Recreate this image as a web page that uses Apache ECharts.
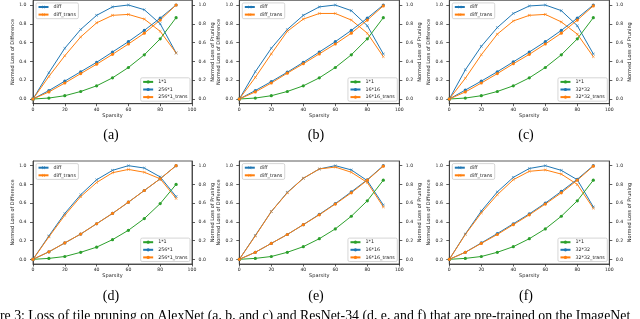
<!DOCTYPE html>
<html>
<head>
<meta charset="utf-8">
<script src="https://cdn.jsdelivr.net/npm/echarts@6/dist/echarts.min.js"></script>
<style>html,body{margin:0;padding:0;background:#fff;}#c{width:640px;height:319px;}</style>
</head>
<body>
<div id="c"></div>
<script>
// ---- data ----
const sparsity = [0, 10, 20, 30, 40, 50, 60, 70, 80, 90];
const yTicks = [0, 0.2, 0.4, 0.6, 0.8, 1.0];
const xTicksMax = 100;
const panelLabels = ['(a)', '(b)', '(c)', '(d)', '(e)', '(f)'];
const tileNames = ['256*1', '16*16', '32*32', '256*1', '16*16', '32*32'];
const tileTransNames = ['256*1_trans', '16*16_trans', '32*32_trans', '256*1_trans', '16*16_trans', '32*32_trans'];
const captionText = 're 3: Loss of tile pruning on AlexNet (a, b, and c) and ResNet-34 (d, e, and f) that are pre-trained on the ImageNet';

// (a) AlexNet 256*1
const diffA      = [0, 0.28, 0.54, 0.74, 0.89, 0.98, 1.00, 0.95, 0.80, 0.49];
const diffTransA = [0, 0.24, 0.46, 0.66, 0.81, 0.89, 0.90, 0.85, 0.72, 0.49];
const oneA       = [0, 0.01, 0.035, 0.08, 0.14, 0.225, 0.335, 0.47, 0.64, 0.865];
const tileA      = [0, 0.09, 0.19, 0.29, 0.39, 0.50, 0.61, 0.73, 0.86, 1.00];
const tileTransA = [0, 0.075, 0.17, 0.27, 0.37, 0.475, 0.585, 0.70, 0.84, 1.00];
// (b) AlexNet 16*16
const diffB      = [0, 0.29, 0.54, 0.74, 0.89, 0.98, 1.00, 0.94, 0.78, 0.48];
const diffTransB = [0, 0.23, 0.48, 0.72, 0.85, 0.91, 0.91, 0.84, 0.70, 0.45];
const oneB       = [0, 0.01, 0.035, 0.08, 0.14, 0.225, 0.335, 0.47, 0.64, 0.865];
const tileB      = [0, 0.09, 0.185, 0.285, 0.39, 0.50, 0.61, 0.73, 0.86, 1.00];
const tileTransB = [0, 0.075, 0.17, 0.275, 0.375, 0.48, 0.585, 0.70, 0.84, 0.99];
// (c) AlexNet 32*32
const diffC      = [0, 0.31, 0.56, 0.76, 0.91, 0.99, 1.00, 0.94, 0.78, 0.48];
const diffTransC = [0, 0.22, 0.47, 0.69, 0.83, 0.89, 0.90, 0.82, 0.69, 0.45];
const oneC       = [0, 0.01, 0.035, 0.08, 0.14, 0.225, 0.335, 0.47, 0.64, 0.865];
const tileC      = [0, 0.095, 0.19, 0.29, 0.395, 0.50, 0.61, 0.73, 0.86, 1.00];
const tileTransC = [0, 0.075, 0.17, 0.27, 0.375, 0.475, 0.585, 0.70, 0.84, 0.99];
// (d) ResNet-34 256*1
const diffD      = [0, 0.25, 0.49, 0.69, 0.85, 0.95, 1.00, 0.975, 0.88, 0.67];
const diffTransD = [0, 0.24, 0.47, 0.67, 0.82, 0.925, 0.96, 0.93, 0.86, 0.65];
const oneD       = [0, 0.01, 0.03, 0.075, 0.13, 0.21, 0.31, 0.435, 0.595, 0.80];
const tileD      = [0, 0.08, 0.175, 0.27, 0.38, 0.49, 0.61, 0.735, 0.86, 1.00];
const tileTransD = [0, 0.08, 0.175, 0.27, 0.38, 0.49, 0.61, 0.735, 0.86, 1.00];
// (e) ResNet-34 16*16
const diffE      = [0, 0.255, 0.51, 0.715, 0.865, 0.965, 1.00, 0.955, 0.84, 0.58];
const diffTransE = [0, 0.25, 0.51, 0.71, 0.865, 0.965, 0.985, 0.93, 0.82, 0.56];
const oneE       = [0, 0.01, 0.03, 0.075, 0.135, 0.22, 0.325, 0.46, 0.625, 0.845];
const tileE      = [0, 0.075, 0.17, 0.265, 0.37, 0.48, 0.595, 0.72, 0.85, 1.00];
const tileTransE = [0, 0.075, 0.17, 0.265, 0.37, 0.475, 0.59, 0.71, 0.845, 0.995];
// (f) ResNet-34 32*32
const diffF      = [0, 0.27, 0.515, 0.72, 0.875, 0.97, 1.00, 0.95, 0.85, 0.56];
const diffTransF = [0, 0.265, 0.495, 0.69, 0.85, 0.94, 0.955, 0.91, 0.80, 0.545];
const oneF       = [0, 0.01, 0.03, 0.075, 0.135, 0.22, 0.325, 0.46, 0.625, 0.845];
const tileF      = [0, 0.075, 0.175, 0.275, 0.38, 0.485, 0.60, 0.725, 0.855, 1.00];
const tileTransF = [0, 0.075, 0.17, 0.265, 0.37, 0.475, 0.59, 0.71, 0.845, 0.995];

const panels = [
  [diffA, diffTransA, oneA, tileA, tileTransA],
  [diffB, diffTransB, oneB, tileB, tileTransB],
  [diffC, diffTransC, oneC, tileC, tileTransC],
  [diffD, diffTransD, oneD, tileD, tileTransD],
  [diffE, diffTransE, oneE, tileE, tileTransE],
  [diffF, diffTransF, oneF, tileF, tileTransF]
];

// ---- layout / style ----
const BLUE = '#1f77b4', ORANGE = '#ff7f0e', GREEN = '#2ca02c';
const FONT = 'DejaVu Sans';
const TXT = '#222';
const gridLefts = [33, 239.3, 449.3];
const gridWidths = [159, 160, 160];
const gridTops = [0.3, 161];
const gridHeights = [103.4, 103];
const xMark = 'path://M0,1L1,0L5,4L9,0L10,1L6,5L10,9L9,10L5,6L1,10L0,9L4,5Z';

const grids = [], xAxes = [], yAxes = [], series = [], legends = [], graphics = [];

panels.forEach((p, i) => {
  const col = i % 3, row = Math.floor(i / 3);
  const L = gridLefts[col], W = gridWidths[col], T = gridTops[row], H = gridHeights[row];
  grids.push({left: L, top: T, width: W, height: H, show: true, borderColor: '#333', borderWidth: 0.8, backgroundColor: 'transparent'});
  xAxes.push({
    gridIndex: i, type: 'value', min: 0, max: xTicksMax, interval: 20,
    name: 'Sparsity', nameLocation: 'middle', nameGap: 9.5,
    nameTextStyle: {fontSize: 5, fontFamily: FONT, color: TXT},
    axisLine: {show: true, onZero: false, lineStyle: {color: '#333', width: 0.8}},
    axisTick: {show: true, length: 2.5, lineStyle: {color: '#333', width: 0.8}},
    axisLabel: {fontSize: 4.6, fontFamily: FONT, color: TXT, margin: 3.5, showMinLabel: true, showMaxLabel: true},
    splitLine: {show: false}
  });
  const yCommon = {
    gridIndex: i, type: 'value', min: -0.05, max: 1.05,
    nameLocation: 'middle', nameRotate: 90,
    nameTextStyle: {fontSize: 5, fontFamily: FONT, color: TXT},
    axisLine: {show: true, lineStyle: {color: '#333', width: 0.8}},
    axisTick: {show: true, length: 3, customValues: yTicks, lineStyle: {color: '#333', width: 0.8}},
    axisLabel: {fontSize: 4.6, fontFamily: FONT, color: TXT, margin: 6.5, customValues: yTicks, formatter: v => v.toFixed(1)},
    splitLine: {show: false}
  };
  yAxes.push(Object.assign({}, yCommon, {position: 'left', name: 'Normed Loss of Difference', nameGap: 12.5}));
  yAxes.push(Object.assign({}, yCommon, {position: 'right', name: 'Normed Loss of Pruning', nameGap: 15}));

  const names = ['diff', 'diff_trans', '1*1', tileNames[i], tileTransNames[i]];
  const colors = [BLUE, ORANGE, GREEN, BLUE, ORANGE];
  const yIdx = [2 * i, 2 * i, 2 * i + 1, 2 * i + 1, 2 * i + 1];
  const syms = [xMark, xMark, 'circle', 'circle', 'circle'];
  const symSizes = [3, 3, 3.2, 3.2, 3.2];
  p.forEach((vals, k) => {
    series.push({
      type: 'line', name: names[k], xAxisIndex: i, yAxisIndex: yIdx[k],
      data: sparsity.map((x, j) => [x, vals[j]]),
      symbol: syms[k], symbolSize: symSizes[k], showSymbol: true,
      lineStyle: {color: colors[k], width: 1},
      itemStyle: {color: colors[k]},
      emphasis: {disabled: true}, animation: false
    });
  });

  const legendCommon = {
    orient: 'vertical', itemWidth: 10, itemHeight: 4, itemGap: 2.6,
    padding: [1.6, 2.5, 1.6, 1.5], backgroundColor: 'rgba(255,255,255,0.8)',
    borderColor: '#cccccc', borderWidth: 0.8, borderRadius: 1.5,
    textStyle: {fontSize: 4.8, fontFamily: FONT, color: TXT},
    selectedMode: false
  };
  legends.push(Object.assign({}, legendCommon, {left: L + 3, top: T + 2.6, data: ['diff', 'diff_trans']}));
  legends.push(Object.assign({}, legendCommon, {right: 640 - (L + W - 2), bottom: 319 - (T + H - 2.5), data: ['1*1', tileNames[i], tileTransNames[i]]}));

  graphics.push({
    type: 'text', x: [111, 316, 526][col], y: [135, 296][row],
    style: {text: panelLabels[i], font: '14px "Liberation Serif"', fill: '#000', align: 'center', verticalAlign: 'middle'}
  });
});

graphics.push({
  type: 'text', x: 0, y: 316.5,
  style: {text: captionText, font: '13.8px "Liberation Serif"', fill: '#000', align: 'left', verticalAlign: 'middle'}
});

const chart = echarts.init(document.getElementById('c'), null, {renderer: 'canvas'});
chart.setOption({
  animation: false,
  backgroundColor: '#fff',
  grid: grids, xAxis: xAxes, yAxis: yAxes, series: series, legend: legends,
  graphic: graphics
});
</script>
</body>
</html>
